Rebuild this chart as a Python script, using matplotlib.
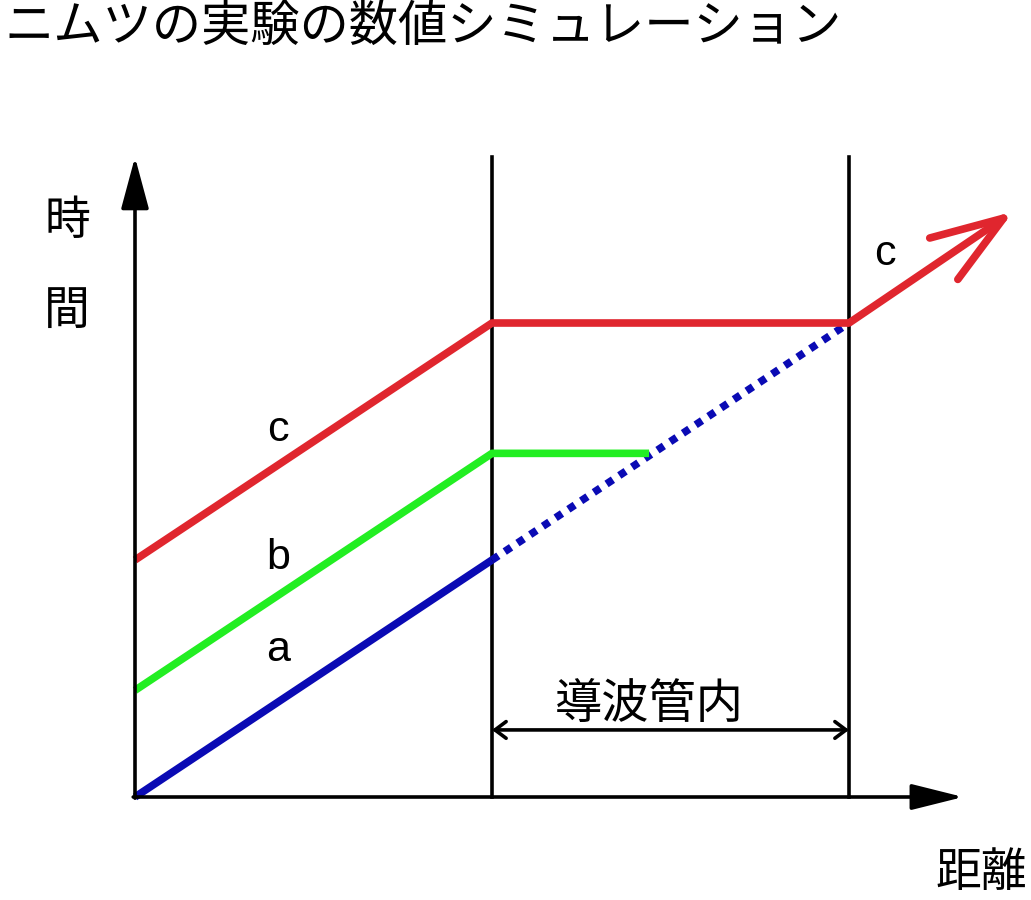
import numpy as np
import matplotlib.pyplot as plt

plt.rcParams['font.family'] = ['Noto Sans CJK JP', 'DejaVu Sans']

# 距離 (導波管の入口=1, 出口=2) と 時間
a_x = [0, 1]
a_t = [0, 1]
a_dot_x = [1, 2]
a_dot_t = [1, 2]
b_x = [0, 1, 1.44]
b_t = [0.45, 1.45, 1.45]
c_x = [0, 1, 2]
c_t = [1, 2, 2]
c_exit = (2.46, 2.47)
guide = [1, 2]
axis_top = 2.70
axis_right = 2.32

fig = plt.figure(figsize=(10.31, 9), dpi=100)
ax = fig.add_axes([0, 0, 1, 1])
ax.set_xlim(-135 / 357, (1031 - 135) / 357)
ax.set_ylim(-103 / 237, 797 / 237)
ax.axis('off')

red = '#e0262e'
green = '#22ee22'
blue = '#0a0ab4'
lw = 5.5
klw = 2.6

# 座標軸
ax.annotate('', xy=(0, axis_top), xytext=(0, -0.005),
            arrowprops=dict(arrowstyle='-|>,head_length=3.2,head_width=0.86',
                            lw=klw, color='black', mutation_scale=10,
                            shrinkA=0, shrinkB=0))
ax.annotate('', xy=(axis_right, 0), xytext=(-0.005, 0),
            arrowprops=dict(arrowstyle='-|>,head_length=3.2,head_width=0.8',
                            lw=klw, color='black', mutation_scale=10,
                            shrinkA=0, shrinkB=0))
for g in guide:
    ax.plot([g, g], [0, axis_top], color='black', lw=klw)

ax.annotate('', xy=(guide[1], 0.283), xytext=(guide[0], 0.283),
            arrowprops=dict(arrowstyle='<->,head_length=0.8,head_width=0.6',
                            lw=klw, color='black', mutation_scale=10,
                            shrinkA=0, shrinkB=0))

# 粒子の軌跡
ax.plot(a_dot_x, a_dot_t, color=blue, lw=lw, dashes=(1, 1), dash_capstyle='butt')
ax.plot(a_x, a_t, color=blue, lw=lw, solid_capstyle='butt')
ax.plot(b_x, b_t, color=green, lw=lw, solid_capstyle='butt')
ax.plot(c_x, c_t, color=red, lw=lw, solid_capstyle='butt')
ax.annotate('', xy=c_exit, xytext=(c_x[-1], c_t[-1]),
            arrowprops=dict(arrowstyle='->,head_length=5.2,head_width=1.8',
                            lw=lw, color=red, mutation_scale=10,
                            shrinkA=0, shrinkB=0))

# 文字
lab = dict(family=['Liberation Sans', 'DejaVu Sans'], fontsize=31,
           ha='center', va='center')
ax.text(0.40, 1.55, 'c', **lab)
ax.text(0.40, 1.01, 'b', **lab)
ax.text(0.40, 0.62, 'a', **lab)
ax.text(2.10, 2.29, 'c', **lab)

cjk = dict(fontsize=33, ha='center', va='center')
ax.text(-0.19, 2.43, '時', **cjk)
ax.text(-0.19, 2.05, '間', **cjk)
ax.text(2.37, -0.32, '距離', **cjk)
ax.text(1.44, 0.39, '導波管内', fontsize=34, ha='center', va='center')

fig.text(0.004, 0.97, 'ニムツの実験の数値シミュレーション', fontsize=35.5,
         ha='left', va='center')

fig.savefig('out.png', dpi=100)
